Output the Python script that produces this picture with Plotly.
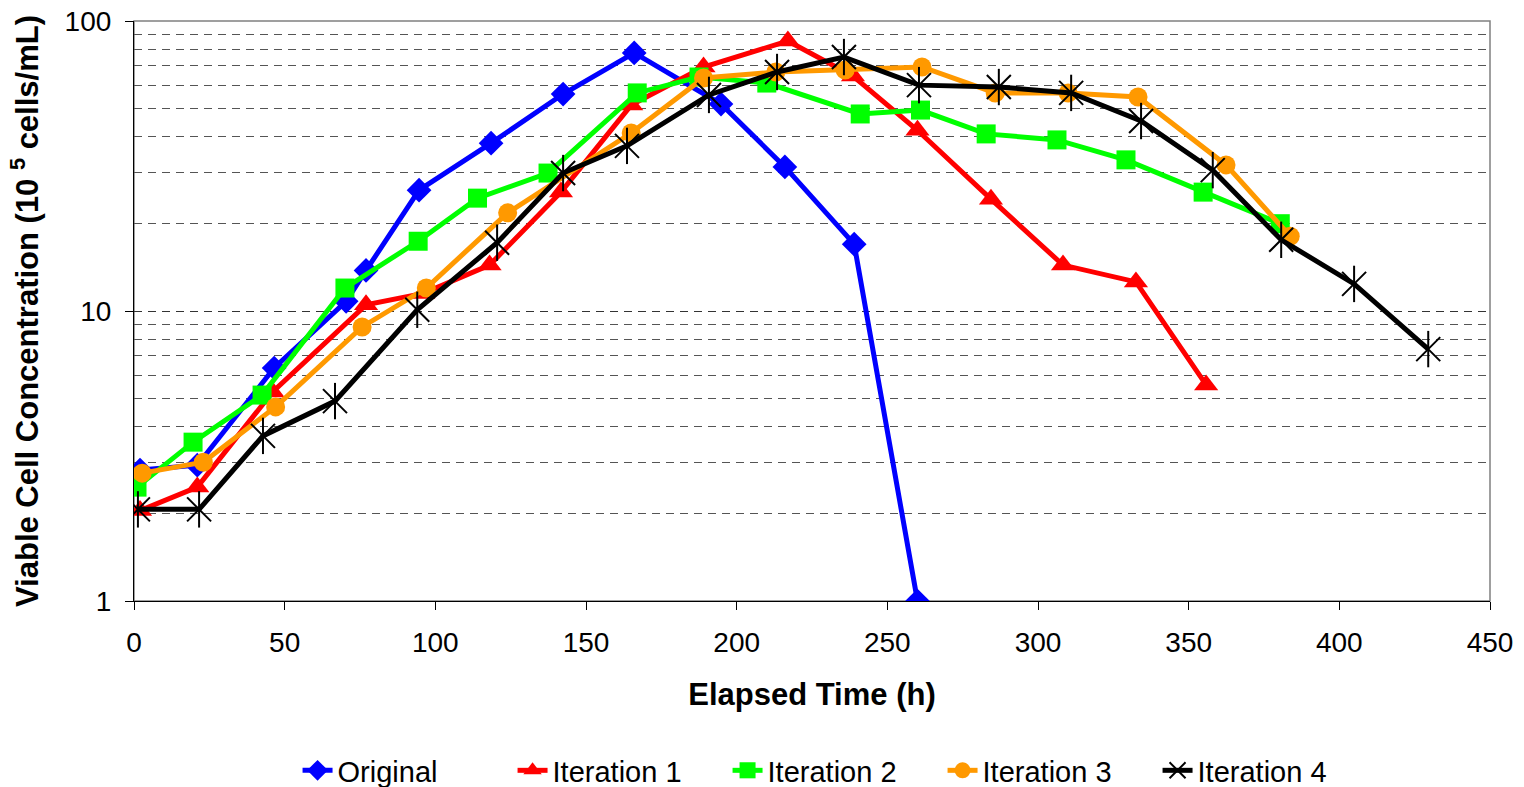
import plotly.graph_objects as go

# Original
t_orig = [2, 21, 46.5, 70.4, 77, 94.6, 118.5, 142.4, 166, 194.8, 216, 239, 260]
v_orig = [2.83, 2.94, 6.36, 10.8, 13.8, 26.1, 37.9, 56, 77.6, 51.7, 31.4, 17, 1.0]

# Iteration 1
t_it1 = [2, 21, 46, 77, 96, 118, 141.7, 165, 189, 217, 238.6, 260, 284.4, 308.3, 332.5, 355.8]
v_it1 = [2.05, 2.47, 5.26, 10.5, 11.5, 14.4, 25.7, 51.3, 69.4, 85.3, 64.6, 42, 24.3, 14.4, 12.6, 5.56]

# Iteration 2
t_it2 = [1, 19.6, 42.5, 70, 94.3, 114, 137.4, 167, 187.5, 210, 241, 261, 282.8, 306.3, 329.2, 354.8, 380.4]
v_it2 = [2.47, 3.53, 5.13, 12.0, 17.4, 24.5, 29.9, 56.5, 64.1, 61.1, 47.8, 49.3, 40.8, 38.9, 33.2, 25.7, 20.0]

# Iteration 3
t_it3 = [2.7, 23, 47, 75.7, 97, 124, 165, 189, 213, 236, 261.5, 285.8, 310, 333.2, 362.4, 383.7]
v_it3 = [2.76, 3.01, 4.67, 8.81, 12.0, 21.8, 41.1, 63.6, 66.7, 67.8, 69.4, 56.5, 56.5, 54.7, 31.9, 18.1]

# Iteration 4
t_it4 = [1.3, 21.6, 42.8, 66.7, 94, 120.5, 142.4, 163.6, 190.8, 213.4, 235.6, 260.5, 287, 311, 334.2, 358, 380.7, 404.9, 429.5]
v_it4 = [2.07, 2.07, 3.71, 4.89, 10.1, 17.2, 29.9, 37.1, 55.6, 66.7, 75.1, 60.1, 59.2, 56.5, 45.2, 30.6, 17.6, 12.4, 7.39]

x_ticks = [0, 50, 100, 150, 200, 250, 300, 350, 400, 450]
y_ticks = [1, 10, 100]
y_minor = [2, 3, 4, 5, 6, 7, 8, 9, 20, 30, 40, 50, 60, 70, 80, 90]

series = [
    ("Original", t_orig, v_orig, "#0000FF", dict(symbol="diamond", size=19)),
    ("Iteration 1", t_it1, v_it1, "#FF0000", dict(symbol="triangle-up", size=21)),
    ("Iteration 2", t_it2, v_it2, "#00FF00", dict(symbol="square", size=19)),
    ("Iteration 3", t_it3, v_it3, "#FF9900", dict(symbol="circle", size=19)),
    ("Iteration 4", t_it4, v_it4, "#000000", dict(symbol="x-thin-open", size=24, line=dict(width=2, color="#000000"))),
]

fig = go.Figure()
for name, t, v, color, mk in series:
    marker = dict(color=color, **mk)
    fig.add_trace(go.Scatter(x=t, y=v, name=name, mode="lines+markers",
                             line=dict(color=color, width=5), marker=marker,
                             hoverinfo="skip"))
# vertical stroke of the six-armed star marker for Iteration 4
fig.add_trace(go.Scatter(x=t_it4, y=v_it4, mode="markers", showlegend=False,
                         marker=dict(symbol="line-ns-open", size=26, color="#000000",
                                     line=dict(width=2, color="#000000")),
                         hoverinfo="skip"))

font_family = "Arial, Liberation Sans, sans-serif"

fig.update_layout(
    width=1524, height=787,
    margin=dict(l=134, r=34, t=21, b=186),
    paper_bgcolor="white", plot_bgcolor="white",
    font=dict(family=font_family, size=28, color="black"),
    showlegend=True,
    legend=dict(orientation="h", x=0.517, xanchor="center",
                yref="container", y=0.021, yanchor="middle",
                font=dict(size=29), entrywidth=170, entrywidthmode="pixels",
                tracegroupgap=0, borderwidth=0, bgcolor="rgba(0,0,0,0)"),
    shapes=[dict(type="rect", xref="paper", yref="paper", x0=0, x1=1, y0=0, y1=1,
                 line=dict(color="#808080", width=1.5), layer="below")],
)

fig.update_xaxes(
    range=[0, 450], tickvals=x_ticks, ticks="outside", ticklen=8, tickwidth=1.2,
    tickcolor="black", showline=True, linecolor="black", linewidth=1.2,
    showgrid=False, zeroline=False, tickfont=dict(size=28), automargin=False,
    ticklabelstandoff=8,
    title=dict(text="<b>Elapsed Time (h)</b>", font=dict(size=31), standoff=26),
)

fig.update_yaxes(
    type="log", range=[0, 2], tickvals=y_ticks, ticktext=["1", "10", "100"],
    ticks="outside", ticklen=8, tickwidth=1.2, tickcolor="black",
    showline=True, linecolor="black", linewidth=1.2,
    showgrid=True, gridcolor="#333333", gridwidth=1, griddash="8px,6px",
    zeroline=False, tickfont=dict(size=28), automargin=False, ticklabelstandoff=8,
    minor=dict(tickvals=y_minor, showgrid=True, gridcolor="#555555", gridwidth=1,
               griddash="8px,6px", ticks=""),
    title=dict(text="<b>Viable Cell Concentration (10 <sup>5</sup> cells/mL)</b>",
               font=dict(size=31), standoff=16),
)

fig.write_html("out.html")
